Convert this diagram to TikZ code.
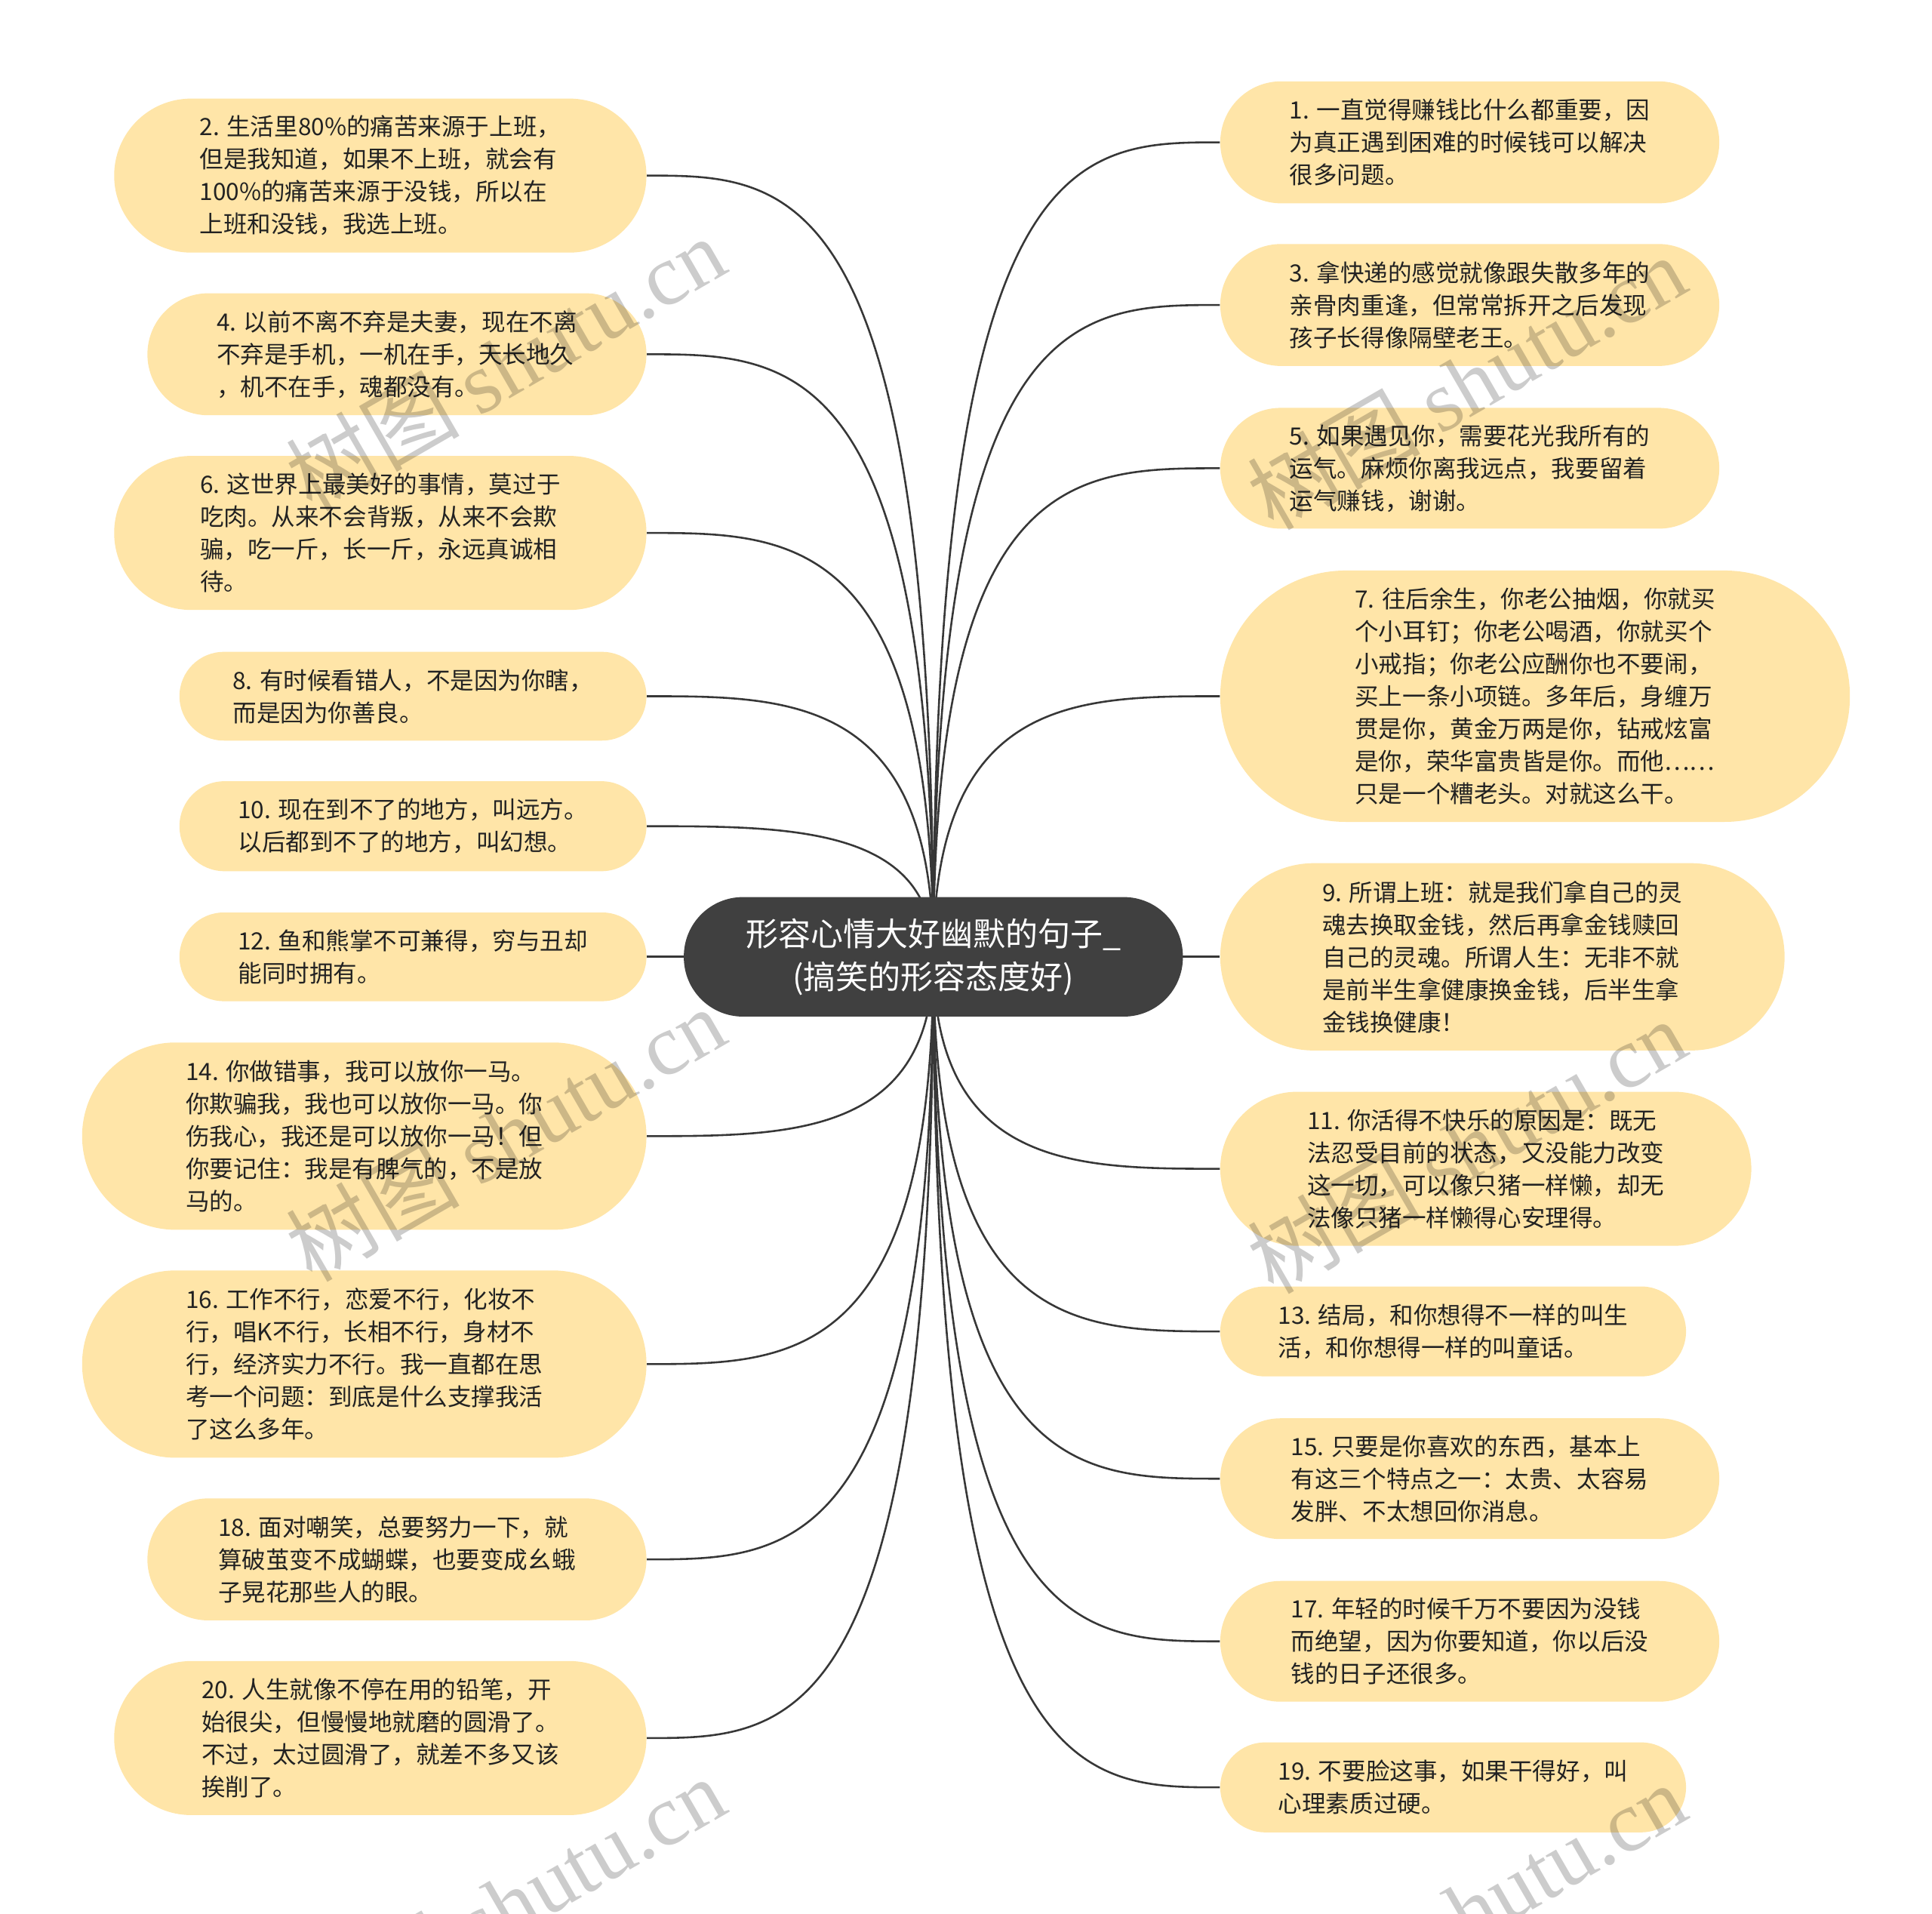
\documentclass[tikz,border=0pt]{standalone}
\usepackage{fontspec}
\setmainfont{Noto Sans CJK SC}
\newfontfamily\wmfont{Liberation Serif}
\usetikzlibrary{backgrounds,calc}
\definecolor{rootbg}    {RGB}{ 64, 64, 64}
\definecolor{leafbg}    {RGB}{255,229,168}
\definecolor{leaftext}  {RGB}{ 34, 34, 34}
\definecolor{branchline}{RGB}{ 55, 55, 55}

\begin{document}
\begin{tikzpicture}[
    x=0.02cm, y=-0.02cm,
    leaf/.style 2 args={rectangle, fill=leafbg, text=leaftext, align=left, inner sep=0pt,
        minimum width=#1*0.02cm, minimum height=#2*0.02cm, rounded corners=#2*0.01cm,
        font=\fontsize{11}{15}\selectfont},
    lleaf/.style 2 args={leaf={#1}{#2}, anchor=east},
    rleaf/.style 2 args={leaf={#1}{#2}, anchor=west},
    root/.style={rectangle, fill=rootbg, text=white, align=center, inner sep=0pt,
        minimum width=405*0.02cm, minimum height=97*0.02cm, rounded corners=48*0.02cm,
        font=\fontsize{15}{20}\selectfont},
    branch/.style={draw=branchline, line width=0.9pt},
    wmark/.style={text=black, text opacity=0.2, rotate=30, font=\fontsize{40}{40}\selectfont}
]
    \useasboundingbox (0,0) rectangle (1568,1553);

    % Central topic
    \node[root] (root) at (757.5,776.5) {形容心情大好幽默的句子\_\\(搞笑的形容态度好)};

    % Left branches
    \node[lleaf={432}{125}] (n2)  at (525,142.5)  {2. 生活里80\%的痛苦来源于上班，\\但是我知道，如果不上班，就会有\\100\%的痛苦来源于没钱，所以在\\上班和没钱，我选上班。};
    \node[lleaf={405}{99}]  (n4)  at (525,287.5)  {4. 以前不离不弃是夫妻，现在不离\\不弃是手机，一机在手，天长地久\\，机不在手，魂都没有。};
    \node[lleaf={432}{125}] (n6)  at (525,432.5)  {6. 这世界上最美好的事情，莫过于\\吃肉。从来不会背叛，从来不会欺\\骗，吃一斤，长一斤，永远真诚相\\待。};
    \node[lleaf={379}{72}]  (n8)  at (525,565)    {8. 有时候看错人，不是因为你瞎，\\而是因为你善良。};
    \node[lleaf={379}{73}]  (n10) at (525,670.5)  {10. 现在到不了的地方，叫远方。\\以后都到不了的地方，叫幻想。};
    \node[lleaf={379}{72}]  (n12) at (525,776.5)  {12. 鱼和熊掌不可兼得，穷与丑却\\能同时拥有。};
    \node[lleaf={458}{152}] (n14) at (525,922)    {14. 你做错事，我可以放你一马。\\你欺骗我，我也可以放你一马。你\\伤我心，我还是可以放你一马！但\\你要记住：我是有脾气的，不是放\\马的。};
    \node[lleaf={458}{152}] (n16) at (525,1107)   {16. 工作不行，恋爱不行，化妆不\\行，唱K不行，长相不行，身材不\\行，经济实力不行。我一直都在思\\考一个问题：到底是什么支撑我活\\了这么多年。};
    \node[lleaf={405}{99}]  (n18) at (525,1265.5) {18. 面对嘲笑，总要努力一下，就\\算破茧变不成蝴蝶，也要变成幺蛾\\子晃花那些人的眼。};
    \node[lleaf={432}{125}] (n20) at (525,1410.5) {20. 人生就像不停在用的铅笔，开\\始很尖，但慢慢地就磨的圆滑了。\\不过，太过圆滑了，就差不多又该\\挨削了。};

    % Right branches
    \node[rleaf={405}{99}]  (n1)  at (990,115.5)  {1. 一直觉得赚钱比什么都重要，因\\为真正遇到困难的时候钱可以解决\\很多问题。};
    \node[rleaf={405}{99}]  (n3)  at (990,247.5)  {3. 拿快递的感觉就像跟失散多年的\\亲骨肉重逢，但常常拆开之后发现\\孩子长得像隔壁老王。};
    \node[rleaf={405}{98}]  (n5)  at (990,380)    {5. 如果遇见你，需要花光我所有的\\运气。麻烦你离我远点，我要留着\\运气赚钱，谢谢。};
    \node[rleaf={511}{204}] (n7)  at (990,565)    {7. 往后余生，你老公抽烟，你就买\\个小耳钉；你老公喝酒，你就买个\\小戒指；你老公应酬你也不要闹，\\买上一条小项链。多年后，身缠万\\贯是你，黄金万两是你，钻戒炫富\\是你，荣华富贵皆是你。而他……\\只是一个糟老头。对就这么干。};
    \node[rleaf={458}{152}] (n9)  at (990,776.5)  {9. 所谓上班：就是我们拿自己的灵\\魂去换取金钱，然后再拿金钱赎回\\自己的灵魂。所谓人生：无非不就\\是前半生拿健康换金钱，后半生拿\\金钱换健康！};
    \node[rleaf={431}{125}] (n11) at (990,948.5)  {11. 你活得不快乐的原因是：既无\\法忍受目前的状态，又没能力改变\\这一切，可以像只猪一样懒，却无\\法像只猪一样懒得心安理得。};
    \node[rleaf={378}{73}]  (n13) at (990,1080.5) {13. 结局，和你想得不一样的叫生\\活，和你想得一样的叫童话。};
    \node[rleaf={405}{98}]  (n15) at (990,1200)   {15. 只要是你喜欢的东西，基本上\\有这三个特点之一：太贵、太容易\\发胖、不太想回你消息。};
    \node[rleaf={405}{98}]  (n17) at (990,1332)   {17. 年轻的时候千万不要因为没钱\\而绝望，因为你要知道，你以后没\\钱的日子还很多。};
    \node[rleaf={378}{73}]  (n19) at (990,1450.5) {19. 不要脸这事，如果干得好，叫\\心理素质过硬。};

    % Connectors, behind the boxes
    \begin{scope}[on background layer]
        \foreach \n in {n2,n4,n6,n8,n10,n12,n14,n16,n18,n20}
            \draw[branch] (root.center) .. controls (root.center |- \n.east) and ($(root.center |- \n.east)!.5!(\n.east)$) .. (\n.east);
        \foreach \n in {n1,n3,n5,n7,n9,n11,n13,n15,n17,n19}
            \draw[branch] (root.center) .. controls (root.center |- \n.west) and ($(root.center |- \n.west)!.5!(\n.west)$) .. (\n.west);
    \end{scope}

    % Watermarks
    \node[wmark] (wm1) at (410,295)  {树图 {\wmfont shutu.cn}};
    \node[wmark] (wm2) at (1190,310) {树图 {\wmfont shutu.cn}};
    \node[wmark] (wm3) at (410,920)  {树图 {\wmfont shutu.cn}};
    \node[wmark] (wm4) at (1190,930) {树图 {\wmfont shutu.cn}};
    \node[wmark] (wm5) at (410,1545) {树图 {\wmfont shutu.cn}};
    \node[wmark] (wm6) at (1190,1550){树图 {\wmfont shutu.cn}};
\end{tikzpicture}
\end{document}
